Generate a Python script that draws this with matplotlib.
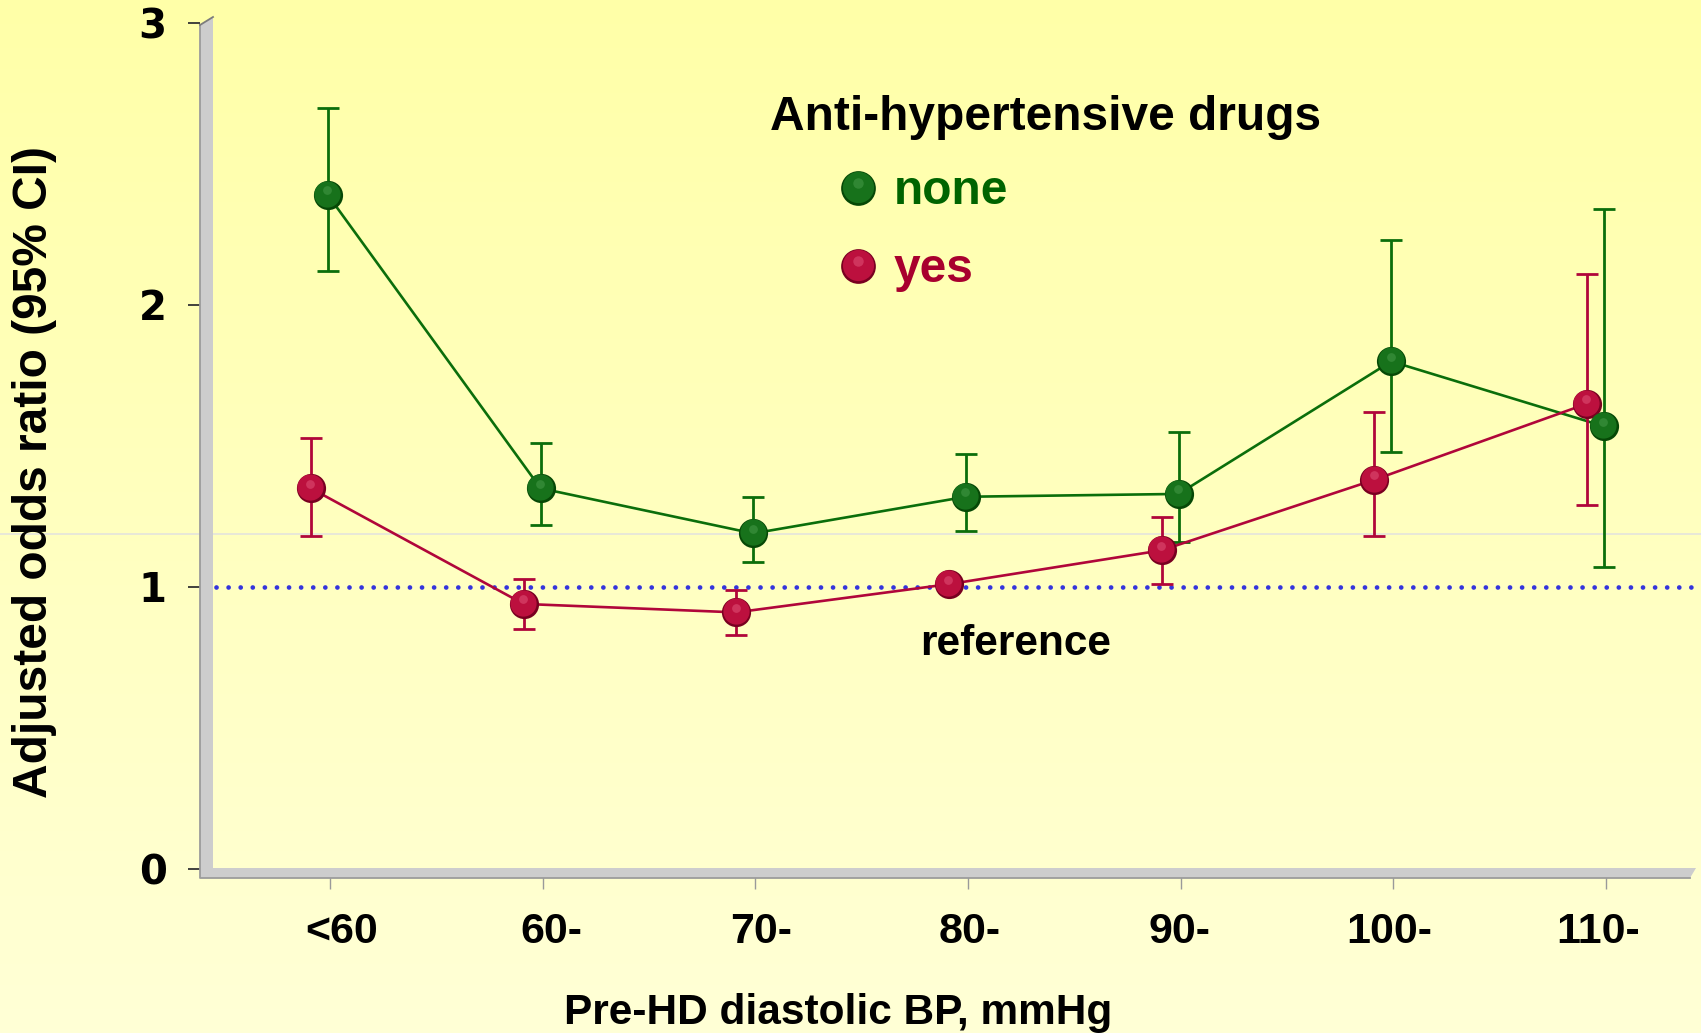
#!/usr/bin/env python
"""Adjusted odds ratio by pre-HD diastolic BP, with / without anti-hypertensive drugs."""
import numpy as np
import matplotlib; matplotlib.use("Agg")
import matplotlib.pyplot as plt
from matplotlib.patches import Polygon
from matplotlib.lines import Line2D
from matplotlib.transforms import offset_copy, ScaledTranslation

categories = ["<60", "60-", "70-", "80-", "90-", "100-", "110-"]
none_or = [2.39, 1.35, 1.19, 1.32, 1.33, 1.80, 1.57]
none_lo = [2.12, 1.22, 1.09, 1.20, 1.16, 1.48, 1.07]
none_hi = [2.70, 1.51, 1.32, 1.47, 1.55, 2.23, 2.34]
yes_or = [1.35, 0.94, 0.91, 1.01, 1.13, 1.38, 1.65]
yes_lo = [1.18, 0.85, 0.83, np.nan, 1.01, 1.18, 1.29]
yes_hi = [1.53, 1.03, 0.99, np.nan, 1.25, 1.62, 2.11]
y_ticks = [0, 1, 2, 3]
ref_value = 1.0

W, H, DPI = 1701, 1033, 100
FONT = "Liberation Sans"
GREEN = ("#064806", "#17721b", "#58a858")   # edge, body, highlight
RED = ("#780020", "#bc103e", "#ee6c8e")
GREEN_LINE, RED_LINE = "#0b6e0b", "#b0063a"

def fpx(x, y):
    """pixel position (from top-left) -> figure fraction"""
    return x / W, 1 - y / H

fig = plt.figure(figsize=(W / DPI, H / DPI), dpi=DPI)

# background gradient
bg = fig.add_axes([0, 0, 1, 1], zorder=-1)
top = np.array([255, 255, 168]) / 255
bot = np.array([255, 255, 214]) / 255
g = np.linspace(0, 1, 256)[:, None, None]
bg.imshow(top + (bot - top) * g, aspect="auto", extent=[0, 1, 0, 1], origin="upper")
bg.axhline(1 - 534 / H, color="#e4e4dc", lw=1.2)
bg.set_xlim(0, 1); bg.set_ylim(0, 1); bg.axis("off")

# main axes: x categories at 330 + 212.67*i px, y value v at 869 - 282*v px
ax = fig.add_axes([200 / W, 1 - 871 / H, 1501 / W, 851 / H])
ax.set_facecolor("none")
for s in ax.spines.values():
    s.set_visible(False)

def sphere(x, y, col, trans, ms=21, z=6):
    edge, body, hi = col
    kw = dict(linestyle="none", marker="o", mec="none", clip_on=False)
    ax.plot(x, y, ms=ms, mfc=edge, transform=trans, zorder=z, **kw)
    ax.plot(x, y, ms=ms * 0.9, mfc=body, zorder=z + 0.1,
            transform=offset_copy(trans, fig, x=-0.4, y=1.0, units="dots"), **kw)
    ax.plot(x, y, ms=ms * 0.3, mfc=hi, alpha=0.4, zorder=z + 0.2,
            transform=offset_copy(trans, fig, x=-0.5, y=ms * 0.22, units="dots"), **kw)

xi = np.arange(len(categories))
xg, xr = xi - 0.01, xi - 0.09
for xs, orv, lo, hi, lc, col in [(xg, none_or, none_lo, none_hi, GREEN_LINE, GREEN),
                                 (xr, yes_or, yes_lo, yes_hi, RED_LINE, RED)]:
    orv, lo, hi = map(np.asarray, (orv, lo, hi))
    ax.plot(xs, orv, color=lc, lw=1.9, zorder=3)
    ax.errorbar(xs, orv, yerr=[orv - lo, hi - orv], fmt="none", ecolor=lc,
                elinewidth=2.0, capsize=7.9, capthick=2.0, zorder=3)
    sphere(xs, orv, col, ax.transData)

# dotted reference line
ax.plot([-0.536, 6.45], [ref_value, ref_value], color="#3434dc", lw=3.4,
        linestyle=(0, (0.01, 2.55)), dash_capstyle="round", zorder=2)
ax.text(3.226, 0.759, "reference", ha="center", va="baseline",
        fontsize=30.5, fontweight="bold", family=FONT)

ax.set_xlim(-130 / 212.67, 1371 / 212.67)
ax.set_ylim(-2 / 282, 849 / 282)
ax.set_xticks(xi)
ax.set_xticklabels(categories, fontsize=31, fontweight="bold", family=FONT)
ax.set_yticks(y_ticks)
ax.set_yticklabels([str(t) for t in y_ticks], fontsize=29, fontweight="bold",
                   family="DejaVu Sans")
ax.tick_params(axis="x", length=13, width=1.0, color="#9a9a9a", pad=16.5)
ax.tick_params(axis="y", length=8.6, width=1.3, color="#333333", pad=15.5)
# labels drift a little with the perspective of the floor
for i, lbl in enumerate(ax.get_xticklabels()):
    dx = (12 - 3.3 * i) / DPI
    lbl.set_transform(lbl.get_transform() + ScaledTranslation(dx, 0, fig.dpi_scale_trans))

# 3D-style wall and floor
wall = Polygon([fpx(200, 878), fpx(200, 25), fpx(213, 17), fpx(213, 868),
                fpx(1696, 868), fpx(1690, 878)], closed=True,
               transform=fig.transFigure, facecolor="#cdcdcd", edgecolor="none")
fig.add_artist(wall)
fig.add_artist(Line2D(*zip(fpx(200, 25), fpx(200, 878), fpx(1690, 878)),
                      transform=fig.transFigure, color="#9c9c9c", lw=1.3))
fig.add_artist(Line2D(*zip(fpx(200, 25), fpx(213, 17)),
                      transform=fig.transFigure, color="#7c7c7c", lw=1.3))

# legend
fig.text(*fpx(770, 130), "Anti-hypertensive drugs", ha="left", va="baseline",
         fontsize=34.5, fontweight="bold", family=FONT)
for ypx, lab, col, tc in [(188, "none", GREEN, "#006400"), (266, "yes", RED, "#a8002e")]:
    sphere([fpx(858, ypx)[0]], [fpx(858, ypx)[1]], col, fig.transFigure, ms=25)
    fig.text(*fpx(894, ypx + 3), lab, ha="left", va="center", fontsize=34.5,
             fontweight="bold", family=FONT, color=tc)

# axis titles
fig.text(*fpx(35, 472), "Adjusted odds ratio (95% CI)", rotation=90,
         ha="center", va="center", fontsize=34.5, fontweight="bold", family=FONT)
fig.text(*fpx(838, 1024), "Pre-HD diastolic BP, mmHg", ha="center",
         va="baseline", fontsize=30.5, fontweight="bold", family=FONT)

fig.savefig("out.png", dpi=DPI)
